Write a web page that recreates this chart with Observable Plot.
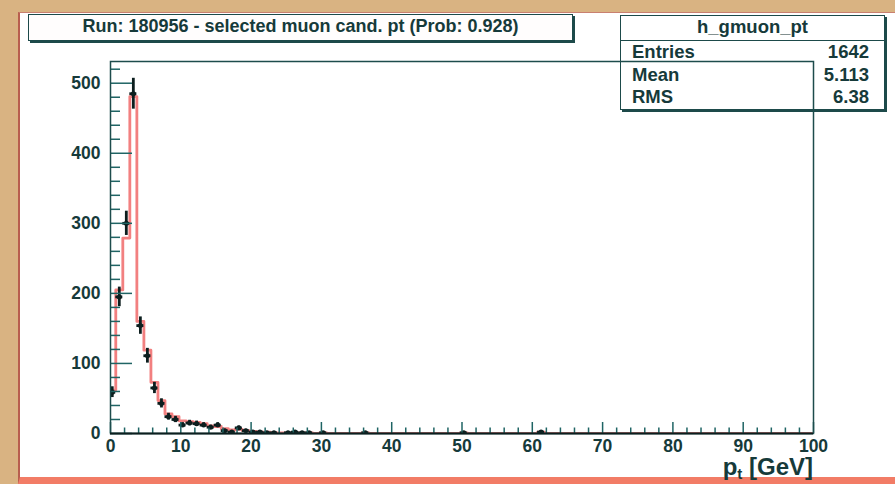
<!DOCTYPE html>
<html>
<head>
<meta charset="utf-8">
<script src="https://cdn.jsdelivr.net/npm/d3@7"></script>
<script src="https://cdn.jsdelivr.net/npm/@observablehq/plot@0.6"></script>
<style>
  html, body { margin: 0; padding: 0; background: #ffffff; }
  #canvas { position: relative; width: 895px; height: 484px; background: #d9b382; overflow: hidden;
            font-family: "Liberation Sans", Arial, Helvetica, sans-serif; font-weight: bold; color: #163a3a; }
  #panel { position: absolute; left: 18px; top: 12px; right: 0; bottom: 0; background: #ffffff;
           border-left: 2px solid #b85e4e; border-top: 1px solid #c98070; border-bottom: 7px solid #f27c66; }
  #title { position: absolute; left: 28px; top: 14px; width: 545px; height: 27px; box-sizing: border-box;
           border: 1.5px solid #1d4a4a; box-shadow: 2px 2px 0 #1d4a4a; background: #fffdfd;
           font-size: 18px; line-height: 23px; text-align: center; white-space: nowrap; }
  #stats { position: absolute; left: 620px; top: 15px; width: 265px; height: 95px; box-sizing: border-box;
           border: 1.5px solid #1d4a4a; box-shadow: 2px 2px 0 #1d4a4a; background: #ffffff; font-size: 18.5px; }
  #stats .head { height: 25px; line-height: 22px; text-align: center; border-bottom: 1.5px solid #1d4a4a; box-sizing: border-box; }
  #stats .row { display: flex; justify-content: space-between; padding: 0 15px 0 11px; height: 22.5px; line-height: 22px; }
  #chart { position: absolute; left: 0; top: 0; }
  #xtitle { position: absolute; right: 82px; top: 455px; font-size: 24px; line-height: 24px; white-space: nowrap; }
  #xtitle sub { font-size: 15px; line-height: 0; vertical-align: -4px; }
</style>
</head>
<body>
<div id="canvas">
  <div id="panel"></div>
  <div id="title"></div>
  <div id="stats"></div>
  <div id="chart"></div>
  <div id="xtitle">p<sub>t</sub> [GeV]</div>
</div>
<script>
// ---- chart text ----
const titleText = "Run: 180956 - selected muon cand. pt (Prob: 0.928)";
const statsName = "h_gmuon_pt";
const statsLabels = ["Entries", "Mean", "RMS"];
const statsValues = ["1642", "5.113", "6.38"];

// ---- binning ----
const binLowEdge = -0.25;
const binWidth = 1;

// ---- data histogram (black points with errors), 100 bins ----
const dataCounts = [
  59, 195, 300, 485, 154, 111, 65, 43, 24, 20,
  12, 15, 14, 12, 9, 12, 4, 2, 8, 4,
  2, 2, 1, 1, 0, 1, 2, 1, 1, 0,
  1, 0, 0, 0, 0, 0, 1, 0, 0, 0,
  0, 0, 0, 0, 0, 0, 0, 0, 0, 0,
  1, 0, 0, 0, 0, 0, 0, 0, 0, 0,
  0, 2, 0, 0, 0, 0, 0, 0, 0, 0,
  0, 0, 0, 0, 0, 0, 0, 0, 0, 0,
  0, 0, 0, 0, 0, 0, 0, 0, 0, 0,
  0, 0, 0, 0, 0, 0, 0, 0, 0, 0
];

// ---- reference histogram (red), 100 bins ----
const refCounts = [
  62, 205, 279, 481, 160, 119, 73, 47, 28, 24,
  18, 17, 16, 14, 11, 10, 7, 5, 6, 4,
  3, 2, 2, 1, 1, 1, 1, 1, 1, 0,
  1, 0, 0, 0, 0, 0, 1, 0, 0, 0,
  0, 0, 0, 0, 0, 0, 0, 0, 0, 0,
  1, 0, 0, 0, 0, 0, 0, 0, 0, 0,
  0, 2, 0, 0, 0, 0, 0, 0, 0, 0,
  0, 0, 0, 0, 0, 0, 0, 0, 0, 0,
  0, 0, 0, 0, 0, 0, 0, 0, 0, 0,
  0, 0, 0, 0, 0, 0, 0, 0, 0, 0
];

// ---- axes ----
const xDomain = [0, 100];
const yDomain = [0, 531];
const xMajorTicks = [0, 10, 20, 30, 40, 50, 60, 70, 80, 90, 100];
const yMajorTicks = [0, 100, 200, 300, 400, 500];
const xMinorTicks = d3.range(0, 101, 2).filter(v => v % 10 !== 0);
const yMinorTicks = d3.range(0, 531, 20).filter(v => v % 100 !== 0);

// ---- build tables ----
const lo = k => binLowEdge + k * binWidth;
const refLine = [{x: lo(0), y: 0}]
  .concat(refCounts.map((v, k) => ({x: lo(k), y: v})))
  .concat([{x: lo(refCounts.length), y: refCounts[refCounts.length - 1]}]);
const points = dataCounts
  .map((v, k) => ({x: lo(k) + binWidth / 2, x1: lo(k), x2: lo(k) + binWidth, y: v, e: Math.sqrt(v)}))
  .filter(d => d.y > 0);

// ---- html boxes ----
document.getElementById("title").textContent = titleText;
const stats = document.getElementById("stats");
const head = document.createElement("div");
head.className = "head"; head.textContent = statsName; stats.appendChild(head);
statsLabels.forEach((l, i) => {
  const r = document.createElement("div"); r.className = "row";
  const a = document.createElement("span"); a.textContent = l;
  const b = document.createElement("span"); b.textContent = statsValues[i];
  r.appendChild(a); r.appendChild(b); stats.appendChild(r);
});

// ---- plot ----
const W = 895, H = 484, mL = 110, mR = 82, mT = 61, mB = 51;
const frameW = W - mL - mR, frameH = H - mT - mB;
const axisColor = "#1f6464";
const inkColor = "#0c1e1e";

const chart = Plot.plot({
  width: W, height: H,
  marginLeft: mL, marginRight: mR, marginTop: mT, marginBottom: mB,
  style: {background: "transparent", fontFamily: "'Liberation Sans', Arial, sans-serif",
          fontSize: "17.5px", fontWeight: "bold", color: "#163a3a", overflow: "visible"},
  x: {domain: xDomain, label: null},
  y: {domain: yDomain, label: null},
  marks: [
    Plot.line(refLine, {x: "x", y: "y", curve: "step-after", stroke: "#f06a6a", strokeWidth: 2.8, strokeOpacity: 0.85, clip: true}),
    Plot.ruleX(points, {x: "x", y1: d => d.y - d.e, y2: d => d.y + d.e, stroke: inkColor, strokeWidth: 2.8}),
    Plot.ruleY(points, {y: "y", x1: "x1", x2: "x2", stroke: inkColor, strokeWidth: 2.8, clip: true}),
    Plot.dot(points, {x: "x", y: "y", r: 2.5, fill: inkColor, clip: true}),
    Plot.tickY(yMajorTicks, {y: d => d, insetRight: frameW - 22, stroke: axisColor, strokeWidth: 1.5}),
    Plot.tickY(yMinorTicks, {y: d => d, insetRight: frameW - 10, stroke: axisColor, strokeWidth: 1.5}),
    Plot.tickX(xMajorTicks, {x: d => d, insetTop: frameH - 11, stroke: axisColor, strokeWidth: 1.5}),
    Plot.tickX(xMinorTicks, {x: d => d, insetTop: frameH - 5.5, stroke: axisColor, strokeWidth: 1.5}),
    Plot.frame({stroke: "#1d4c4c", strokeWidth: 1.5}),
    Plot.ruleY([0], {stroke: "#0c1e1e", strokeWidth: 2}),
    Plot.axisY({ticks: yMajorTicks, tickSize: 0, tickPadding: 10, label: null}),
    Plot.axisX({ticks: xMajorTicks, tickSize: 0, tickPadding: 6, label: null})
  ]
});
document.getElementById("chart").appendChild(chart);
</script>
</body>
</html>
